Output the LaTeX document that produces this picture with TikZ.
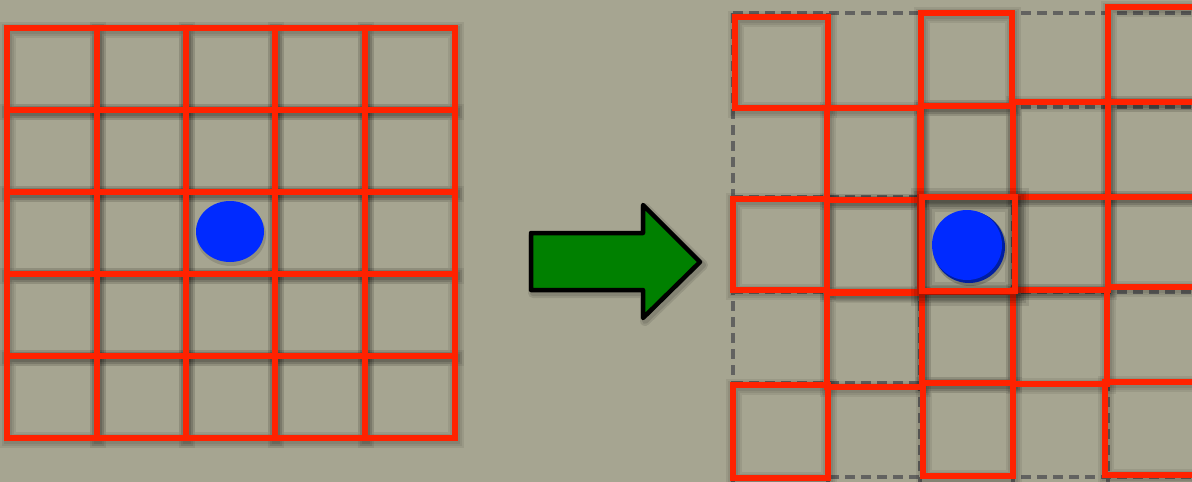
\documentclass[tikz,border=0pt]{standalone}
\definecolor{bg}{RGB}{166,165,145}
\definecolor{redl}{RGB}{255,34,0}
\definecolor{dashg}{RGB}{98,98,96}
\definecolor{blueb}{RGB}{0,42,255}
\definecolor{bluedk}{RGB}{0,30,160}
\definecolor{arrowg}{RGB}{0,128,0}
\begin{document}
\begin{tikzpicture}[x=1pt,y=-1pt,
  sq/.style={draw=redl,line width=5.5pt},
  sqshadow/.style={draw=black,opacity=0.07,line width=#1},
  dashline/.style={draw=dashg,line width=4pt,dash pattern=on 10pt off 6pt},
]
\fill[bg] (0,0) rectangle (1192,482);
\useasboundingbox (0,0) rectangle (1192,482);
\begin{scope}
\clip (0,0) rectangle (1192,482);
% ---------- left grid ----------
\foreach \w in {8pt,12pt,16pt}
\foreach \xa/\xb in {7/97,97/186,186/275,275/365,365/455}
  \foreach \ya/\yb in {28/110,110/192,192/274,274/356,356/438}
    \draw[sqshadow=\w] (\xa+1,\ya+2) rectangle (\xb+1,\yb+2);
\foreach \xa/\xb in {7/97,97/186,186/275,275/365,365/455}
  \foreach \ya/\yb in {28/110,110/192,192/274,274/356,356/438}
    \draw[sq] (\xa,\ya) rectangle (\xb,\yb);
\fill[black,opacity=0.12] (231,235) ellipse [x radius=35, y radius=31];
\fill[blueb] (230,231.5) ellipse [x radius=34, y radius=30.5];
% ---------- arrow ----------
\foreach \w in {6pt,10pt}
\draw[black,opacity=0.1,line width=\w,line join=round] (533,236) -- (645,236) -- (645,208) -- (703,265) -- (645,321) -- (645,293) -- (533,293) -- cycle;
\draw[fill=arrowg,draw=black,line width=4.5pt,line join=round]
  (531,233) -- (643,233) -- (643,205) -- (700,262) -- (643,318) -- (643,290) -- (531,290) -- cycle;
% ---------- right dashed grid ----------
\foreach \x in {733,828,920,1013,1108}
  \draw[dashline] (\x,13) -- (\x,490);
\foreach \y in {13,107,197,292,383,477}
  \draw[dashline] (733,\y) -- (1200,\y);
% ---------- right red squares ----------
\foreach \w in {8pt,12pt,16pt}
\foreach \xa/\ya/\xb/\yb in {
  735/17/828/108, 921/13/1012/106, 1108/7/1205/102,
  827/108/920/200, 921/106/1013/197, 1013/102/1108/197, 1108/102/1205/197,
  733/199/827/290, 827/200/920/292, 1015/197/1108/290, 1108/197/1205/287,
  827/293/922/387, 922/292/1013/383, 1013/290/1107/384,
  733/385/828/478, 923/383/1013/476, 1105/382/1205/475}
  \draw[sqshadow=\w] (\xa+1,\ya+2) rectangle (\xb+1,\yb+2);
\foreach \xa/\ya/\xb/\yb in {
  735/17/828/108, 921/13/1012/106, 1108/7/1205/102,
  827/108/920/200, 921/106/1013/197, 1013/102/1108/197, 1108/102/1205/197,
  733/199/827/290, 827/200/920/292, 1015/197/1108/290, 1108/197/1205/287,
  827/293/922/387, 922/292/1013/383, 1013/290/1107/384,
  733/385/828/478, 923/383/1013/476, 1105/382/1205/475}
  \draw[sq] (\xa,\ya) rectangle (\xb,\yb);
% centre square, raised
\foreach \w in {8pt,13pt,18pt,24pt}
  \draw[draw=black,opacity=0.1,line width=\w] (923,200) rectangle (1017,294);
\draw[sq] (922,197) rectangle (1015,291);
\fill[black,opacity=0.2] (970,249) circle (37);
\fill[bluedk] (969,247) circle (36);
\fill[blueb] (967,245) circle (35);
\end{scope}
\end{tikzpicture}
\end{document}
